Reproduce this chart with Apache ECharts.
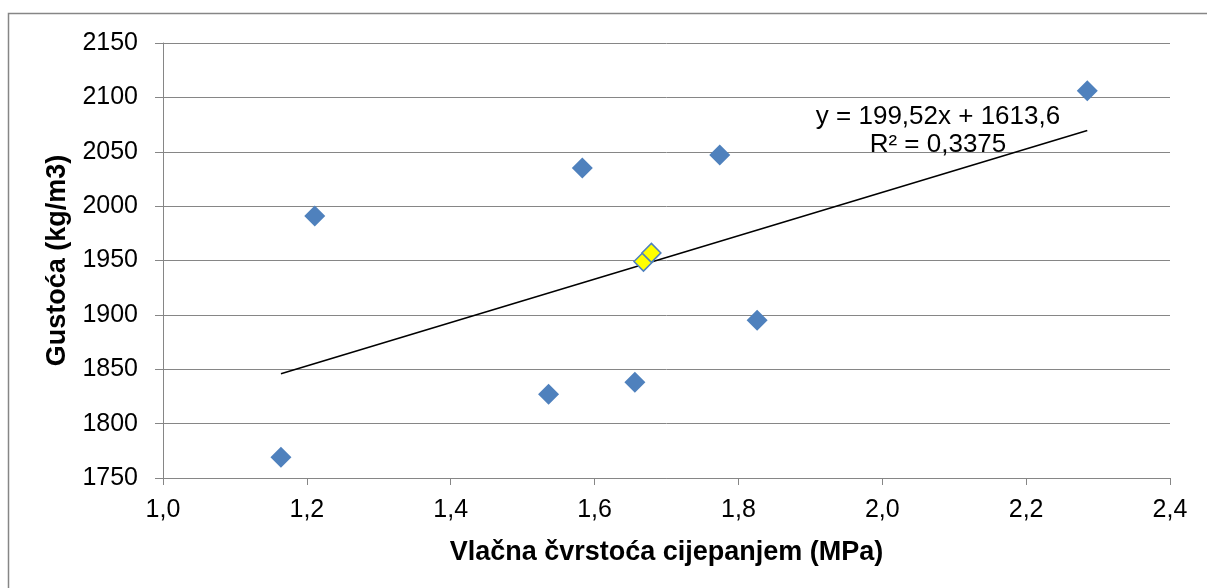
<!DOCTYPE html>
<html><head><meta charset="utf-8">
<script src="https://cdn.jsdelivr.net/npm/echarts@6/dist/echarts.min.js"></script>
<style>html,body{margin:0;padding:0;background:#fff}#c{width:1207px;height:588px}</style>
</head><body><div id="c"></div>
<script>
const xVals = [1.164, 1.211, 1.536, 1.583, 1.656, 1.774, 1.826, 2.285];
const yVals = [1769, 1991, 1827, 2035, 1838, 2047, 1895, 2106];
const hlX = [1.668, 1.679];
const hlY = [1949, 1957];
const slope = 199.52, intercept = 1613.6;
const eqText = 'y = 199,52x + 1613,6';
const r2Text = 'R² = 0,3375';
const xTitle = 'Vlačna čvrstoća cijepanjem (MPa)';
const yTitle = 'Gustoća (kg/m3)';

const allX = xVals.concat(hlX);
const xMin = Math.min(...allX), xMax = Math.max(...allX);
const trend = [[xMin, slope*xMin+intercept],[xMax, slope*xMax+intercept]];
const font = 'Liberation Sans, Arial, sans-serif';
const chart = echarts.init(document.getElementById('c'));
chart.setOption({
  animation:false,
  grid:{left:163,right:37,top:43,bottom:110},
  graphic:[
    {type:'rect',shape:{x:8.5,y:13.5,width:1400,height:800},style:{fill:'none',stroke:'#868686',lineWidth:1.5},silent:true},
    {type:'text',x:938,y:117,style:{text:eqText,font:'26px '+font,fill:'#000',align:'center',verticalAlign:'middle'},z:10},
    {type:'text',x:938,y:145,style:{text:r2Text,font:'26px '+font,fill:'#000',align:'center',verticalAlign:'middle'},z:10}
  ],
  xAxis:{type:'value',min:1.0,max:2.4,interval:0.2,
    name:xTitle,nameLocation:'middle',nameGap:61,
    nameTextStyle:{fontFamily:font,fontSize:27,fontWeight:'bold',color:'#000'},
    axisLine:{show:true,lineStyle:{color:'#868686',width:1}},
    axisTick:{show:true,length:7,lineStyle:{color:'#868686'}},
    splitLine:{show:false},
    axisLabel:{fontFamily:font,fontSize:25,color:'#000',margin:20,formatter:v=>v.toFixed(1).replace('.',',')}},
  yAxis:{type:'value',min:1750,max:2150,interval:50,
    name:yTitle,nameLocation:'middle',nameGap:89,nameRotate:90,
    nameTextStyle:{fontFamily:font,fontSize:27,fontWeight:'bold',color:'#000'},
    axisLine:{show:true,lineStyle:{color:'#868686',width:1}},
    axisTick:{show:true,length:8,lineStyle:{color:'#868686'}},
    splitLine:{show:true,lineStyle:{color:'#868686',width:1}},
    axisLabel:{fontFamily:font,fontSize:25,color:'#000',margin:25,formatter:v=>String(v)}},
  series:[
    {type:'line',data:trend,symbol:'none',lineStyle:{color:'#000',width:1.5},z:3},
    {type:'scatter',data:xVals.map((x,i)=>[x,yVals[i]]),symbol:'diamond',symbolSize:[21,21],itemStyle:{color:'#4F81BD',opacity:1},z:4},
    {type:'scatter',data:hlX.map((x,i)=>[x,hlY[i]]),symbol:'diamond',symbolSize:[19,19],itemStyle:{color:'#FFFF00',borderColor:'#4F81BD',borderWidth:1.5,opacity:1},z:5}
  ]
});
</script></body></html>
